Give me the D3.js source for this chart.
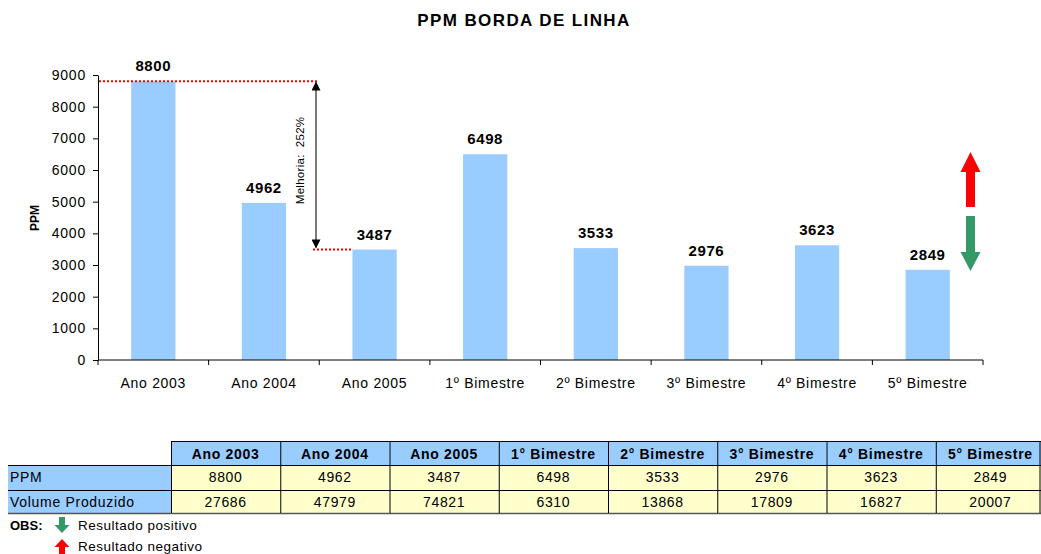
<!DOCTYPE html>
<html>
<head>
<meta charset="utf-8">
<script src="https://cdn.jsdelivr.net/npm/d3@7"></script>
<style>
  body { margin: 0; background: #fff; }
  svg { display: block; font-family: "Liberation Sans", Arial, sans-serif; }
</style>
</head>
<body>
<div id="chart"></div>
<script>
// Data
const categories = ['Ano 2003', 'Ano 2004', 'Ano 2005', '1º Bimestre', '2º Bimestre', '3º Bimestre', '4º Bimestre', '5º Bimestre'];
const tableHeaders = ['Ano 2003', 'Ano 2004', 'Ano 2005', '1° Bimestre', '2° Bimestre', '3° Bimestre', '4° Bimestre', '5° Bimestre'];
const ppm = [8800, 4962, 3487, 6498, 3533, 2976, 3623, 2849];
const volume = [27686, 47979, 74821, 6310, 13868, 17809, 16827, 20007];
const yTicks = [0, 1000, 2000, 3000, 4000, 5000, 6000, 7000, 8000, 9000];
const improvement = 'Melhoria:  252%';

const width = 1041, height = 554;

const svg = d3.select('#chart').append('svg')
    .attr('width', width)
    .attr('height', height);

// Title
svg.append('text')
    .attr('x', 524)
    .attr('y', 26)
    .attr('text-anchor', 'middle')
    .attr('font-size', '17px')
    .attr('font-weight', 'bold')
    .attr('letter-spacing', '1.4px')
    .text('PPM BORDA DE LINHA');

// Scales
const x = d3.scaleBand()
    .domain(categories)
    .range([98, 983])
    .paddingInner(0.6)
    .paddingOuter(0.3);

const y = d3.scaleLinear()
    .domain([0, 9000])
    .range([360, 75]);

// Bars
svg.append('g')
    .selectAll('rect')
    .data(ppm)
    .join('rect')
    .attr('x', (d, i) => x(categories[i]))
    .attr('y', d => y(d))
    .attr('width', x.bandwidth())
    .attr('height', d => y(0) - y(d))
    .attr('fill', '#99CCFF');

// Value labels
svg.append('g')
    .selectAll('text')
    .data(ppm)
    .join('text')
    .attr('x', (d, i) => x(categories[i]) + x.bandwidth() / 2)
    .attr('y', d => y(d) - 10)
    .attr('text-anchor', 'middle')
    .attr('font-size', '15px')
    .attr('font-weight', 'bold')
    .attr('letter-spacing', '0.6px')
    .text(d => d);

// Y axis
const yAxis = svg.append('g')
    .attr('transform', 'translate(98,0)')
    .call(d3.axisLeft(y).tickValues(yTicks).tickSize(5).tickSizeOuter(0).tickFormat(d3.format('d')));
yAxis.select('.domain').attr('stroke', '#000');
yAxis.selectAll('.tick line').attr('stroke', '#000');
yAxis.selectAll('.tick text')
    .attr('x', -12)
    .attr('font-size', '14px')
    .attr('letter-spacing', '0.8px')
    .attr('font-family', '"Liberation Sans", Arial, sans-serif')
    .attr('fill', '#000');

svg.append('text')
    .attr('transform', 'translate(39,218) rotate(-90)')
    .attr('text-anchor', 'middle')
    .attr('font-size', '12px')
    .attr('font-weight', 'bold')
    .text('PPM');

// X axis: ticks between categories
const xAxis = svg.append('g')
    .attr('transform', 'translate(0,360)');
xAxis.append('line')
    .attr('x1', x.range()[0]).attr('x2', x.range()[1])
    .attr('stroke', '#000');
const bounds = categories.map(c => x(c) - x.step() * x.paddingOuter())
    .concat([x.range()[1]]);
xAxis.selectAll('.sep')
    .data(bounds)
    .join('line')
    .attr('x1', d => d).attr('x2', d => d)
    .attr('y1', 0).attr('y2', 5)
    .attr('stroke', '#000');
xAxis.selectAll('.lbl')
    .data(categories)
    .join('text')
    .attr('x', d => x(d) + x.bandwidth() / 2)
    .attr('y', 28)
    .attr('text-anchor', 'middle')
    .attr('font-size', '14px')
    .attr('letter-spacing', '0.7px')
    .text(d => d);

// Improvement annotation: red dotted guides + double arrow
const arrowX = 316;
svg.append('line')
    .attr('x1', 99).attr('x2', arrowX + 2)
    .attr('y1', y(ppm[0])).attr('y2', y(ppm[0]))
    .attr('stroke', '#FF0000').attr('stroke-width', 2)
    .attr('stroke-dasharray', '2,2');
svg.append('line')
    .attr('x1', arrowX - 3).attr('x2', x(categories[2]))
    .attr('y1', y(ppm[2])).attr('y2', y(ppm[2]))
    .attr('stroke', '#FF0000').attr('stroke-width', 2)
    .attr('stroke-dasharray', '2,2');

const defs = svg.append('defs');
defs.append('marker')
    .attr('id', 'ah')
    .attr('viewBox', '0 0 10 10')
    .attr('refX', 9).attr('refY', 5)
    .attr('markerWidth', 10).attr('markerHeight', 9)
    .attr('markerUnits', 'userSpaceOnUse')
    .attr('orient', 'auto-start-reverse')
    .append('path')
    .attr('d', 'M0,0 L10,5 L0,10 Z')
    .attr('fill', '#000');
svg.append('line')
    .attr('x1', arrowX).attr('x2', arrowX)
    .attr('y1', y(ppm[0]) + 1).attr('y2', y(ppm[2]) - 2)
    .attr('stroke', '#222').attr('stroke-width', 1.2)
    .attr('marker-start', 'url(#ah)')
    .attr('marker-end', 'url(#ah)');
svg.append('text')
    .attr('transform', `translate(${arrowX - 12},${(y(ppm[0]) + y(ppm[2])) / 2 - 5}) rotate(-90)`)
    .attr('text-anchor', 'middle')
    .attr('font-size', '11.5px')
    .attr('letter-spacing', '0.3px')
    .attr('xml:space', 'preserve')
    .text(improvement);

// Block arrows
function blockArrow(g, cx, top, bottom, headLen, headW, shaftW, dir, color) {
    let pts;
    if (dir === 'up') {
        pts = [[cx, top], [cx + headW / 2, top + headLen], [cx + shaftW / 2, top + headLen],
            [cx + shaftW / 2, bottom], [cx - shaftW / 2, bottom], [cx - shaftW / 2, top + headLen],
            [cx - headW / 2, top + headLen]];
    } else {
        pts = [[cx, bottom], [cx + headW / 2, bottom - headLen], [cx + shaftW / 2, bottom - headLen],
            [cx + shaftW / 2, top], [cx - shaftW / 2, top], [cx - shaftW / 2, bottom - headLen],
            [cx - headW / 2, bottom - headLen]];
    }
    g.append('polygon')
        .attr('points', pts.map(p => p.join(',')).join(' '))
        .attr('fill', color);
}
blockArrow(svg, 970.5, 152, 207, 20, 20, 9, 'up', '#FF0000');
blockArrow(svg, 970.5, 216, 271, 19, 20, 9, 'down', '#339966');

// Data table
const tx = d3.scaleBand()
    .domain(tableHeaders)
    .range([171, 1045]);
const rowY = [441, 465, 490, 513];
const labelX = 8;
const table = svg.append('g')
    .attr('font-size', '14px')
    .attr('letter-spacing', '0.7px');

// header
table.selectAll('.hcell')
    .data(tableHeaders)
    .join('rect')
    .attr('x', d => tx(d)).attr('y', rowY[0])
    .attr('width', tx.bandwidth()).attr('height', rowY[1] - rowY[0])
    .attr('fill', '#99CCFF');
table.selectAll('.htext')
    .data(tableHeaders)
    .join('text')
    .attr('x', d => tx(d) + tx.bandwidth() / 2)
    .attr('y', rowY[0] + 18)
    .attr('text-anchor', 'middle')
    .attr('font-weight', 'bold')
    .text(d => d);

const rows = [
    { label: 'PPM', values: ppm },
    { label: 'Volume Produzido', values: volume }
];
rows.forEach((row, r) => {
    const top = rowY[r + 1], bot = rowY[r + 2];
    table.append('rect')
        .attr('x', labelX).attr('y', top)
        .attr('width', 171 - labelX).attr('height', bot - top)
        .attr('fill', '#99CCFF');
    table.append('text')
        .attr('x', labelX + 2).attr('y', top + 17)
        .text(row.label);
    table.selectAll('.v' + r)
        .data(row.values)
        .join('rect')
        .attr('x', (d, i) => tx(tableHeaders[i])).attr('y', top)
        .attr('width', tx.bandwidth()).attr('height', bot - top)
        .attr('fill', '#FFFFCC');
    table.selectAll('.t' + r)
        .data(row.values)
        .join('text')
        .attr('x', (d, i) => tx(tableHeaders[i]) + tx.bandwidth() / 2)
        .attr('y', top + 17)
        .attr('text-anchor', 'middle')
        .text(d => d);
});

// grid lines
const gridStroke = '#000';
table.append('line')
    .attr('x1', 171).attr('x2', width).attr('y1', rowY[0] + 0.5).attr('y2', rowY[0] + 0.5)
    .attr('stroke', gridStroke);
[rowY[1], rowY[2]].forEach(yy => {
    table.append('line')
        .attr('x1', labelX).attr('x2', width).attr('y1', yy + 0.5).attr('y2', yy + 0.5)
        .attr('stroke', gridStroke);
});
table.append('line')
    .attr('x1', labelX).attr('x2', width).attr('y1', rowY[3] + 0.5).attr('y2', rowY[3] + 0.5)
    .attr('stroke', '#555').attr('stroke-width', 1.5);
tableHeaders.forEach(h => {
    table.append('line')
        .attr('x1', tx(h) + 0.5).attr('x2', tx(h) + 0.5)
        .attr('y1', rowY[0]).attr('y2', rowY[3])
        .attr('stroke', gridStroke);
});
table.append('line')
    .attr('x1', 1040).attr('x2', 1040)
    .attr('y1', rowY[0]).attr('y2', rowY[3])
    .attr('stroke', gridStroke);

// OBS legend
svg.append('text')
    .attr('x', 10).attr('y', 530)
    .attr('font-size', '13px')
    .attr('font-weight', 'bold')
    .text('OBS:');
blockArrow(svg, 62, 517, 533, 8, 15, 6, 'down', '#339966');
blockArrow(svg, 62, 539, 556, 8, 15, 6, 'up', '#FF0000');
svg.append('text')
    .attr('x', 78).attr('y', 530)
    .attr('font-size', '13.5px')
    .attr('letter-spacing', '0.5px')
    .text('Resultado positivo');
svg.append('text')
    .attr('x', 78).attr('y', 551)
    .attr('font-size', '13.5px')
    .attr('letter-spacing', '0.5px')
    .text('Resultado negativo');
</script>
</body>
</html>
